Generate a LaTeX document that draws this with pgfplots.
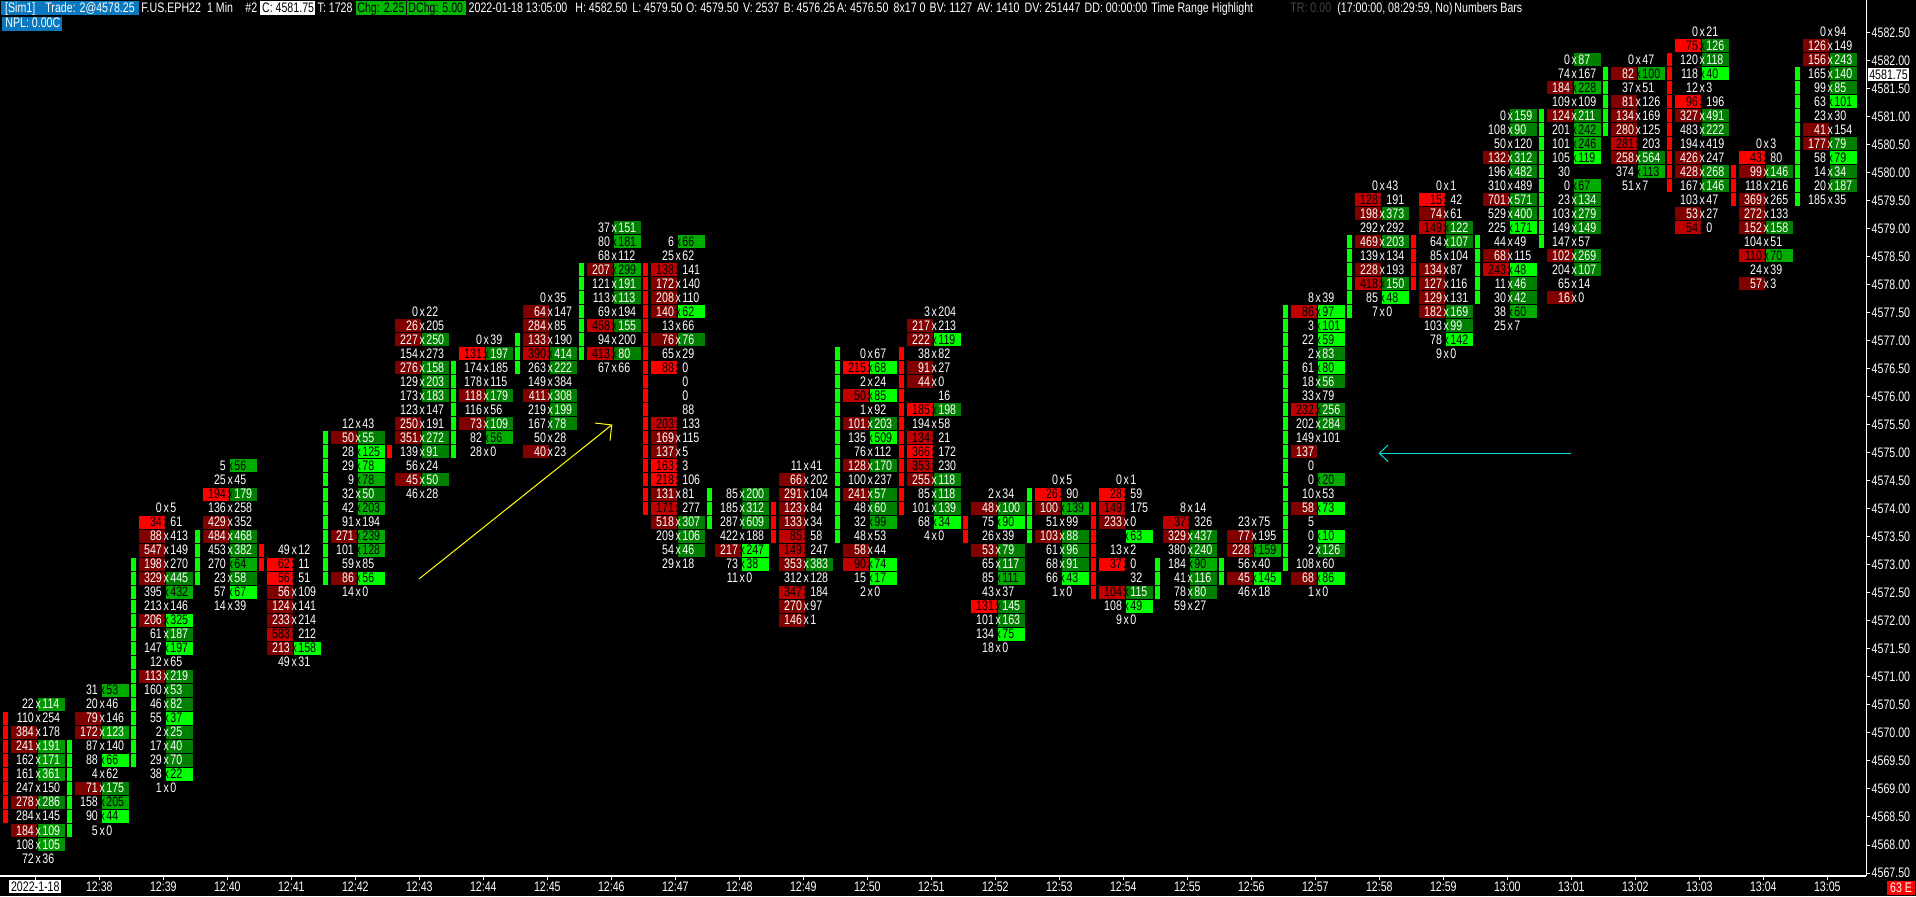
\documentclass[border=0pt]{standalone}
\usepackage{fontspec}
\usepackage{pgfplots}
\usepackage{pgfplotstable}
\pgfplotsset{compat=1.18}
\setmainfont[FakeStretch=0.77]{Liberation Sans}
\newcommand\dt{\fontsize{6.9}{7}\selectfont}
\definecolor{redA}{HTML}{800000}
\definecolor{redC}{HTML}{BE0000}
\definecolor{redD}{HTML}{FF0000}
\definecolor{grnA}{HTML}{008000}
\definecolor{grnB}{HTML}{009800}
\definecolor{grnC}{HTML}{00AC00}
\definecolor{grnD}{HTML}{00FF00}
\definecolor{simblue}{HTML}{0A78BE}
\definecolor{chggreen}{HTML}{00B800}
\definecolor{arrowy}{HTML}{FFFF00}
\definecolor{arrowc}{HTML}{00E0E0}
% picture is 958x448pt, so 1 screen pixel = 0.5pt
\pgfdeclareplotmark{cellL}{\pgfpathrectangle{\pgfpoint{-12.15pt}{-2.9pt}}{\pgfpoint{13pt}{6.5pt}}\pgfusepathqfill}
\pgfdeclareplotmark{cellR}{\pgfpathrectangle{\pgfpoint{1.35pt}{-2.9pt}}{\pgfpoint{13.5pt}{6.5pt}}\pgfusepathqfill}
\pgfdeclareplotmark{body}{\pgfpathrectangle{\pgfpoint{-16.15pt}{-2.9pt}}{\pgfpoint{2.5pt}{6.5pt}}\pgfusepathqfill}
% t p bid ask leftshade rightshade candle(1 up, 2 down); shade -1 = number not shown
\pgfplotstableread{
t p b a ls rs c
0 4570.50 22 114 0 2 0
0 4570.25 110 254 0 0 2
0 4570.00 384 178 1 0 2
0 4569.75 241 191 1 2 2
0 4569.50 162 171 0 2 2
0 4569.25 161 361 0 2 2
0 4569.00 247 150 0 0 2
0 4568.75 278 286 1 1 2
0 4568.50 284 145 0 0 2
0 4568.25 184 109 1 2 0
0 4568.00 108 105 0 2 0
0 4567.75 72 36 0 0 0
1 4570.75 31 53 0 3 0
1 4570.50 20 46 0 0 0
1 4570.25 79 146 1 0 0
1 4570.00 172 123 1 2 0
1 4569.75 87 140 0 0 1
1 4569.50 88 66 0 4 1
1 4569.25 4 62 0 0 1
1 4569.00 71 175 1 1 1
1 4568.75 158 205 0 3 1
1 4568.50 90 44 0 4 1
1 4568.25 5 0 0 0 1
2 4574.00 0 5 0 0 0
2 4573.75 34 61 4 0 0
2 4573.50 88 413 1 0 0
2 4573.25 547 149 1 0 0
2 4573.00 198 270 1 0 1
2 4572.75 329 445 1 1 1
2 4572.50 395 432 0 3 1
2 4572.25 213 146 0 0 1
2 4572.00 206 325 1 4 1
2 4571.75 61 187 0 1 1
2 4571.50 147 197 0 4 1
2 4571.25 12 65 0 0 1
2 4571.00 113 219 1 1 1
2 4570.75 160 53 0 1 1
2 4570.50 46 82 0 1 1
2 4570.25 55 37 0 4 1
2 4570.00 2 25 0 1 1
2 4569.75 17 40 0 1 1
2 4569.50 29 70 0 1 1
2 4569.25 38 22 0 4 0
2 4569.00 1 0 0 0 0
3 4574.75 5 56 0 3 0
3 4574.50 25 45 0 0 0
3 4574.25 194 179 4 1 0
3 4574.00 136 258 0 0 0
3 4573.75 429 352 1 0 0
3 4573.50 484 468 1 1 1
3 4573.25 453 382 0 1 1
3 4573.00 270 64 0 3 1
3 4572.75 23 58 0 1 1
3 4572.50 57 67 0 4 0
3 4572.25 14 39 0 0 0
4 4573.25 49 12 0 0 2
4 4573.00 62 11 4 0 2
4 4572.75 56 51 4 0 0
4 4572.50 56 109 1 0 0
4 4572.25 124 141 1 0 0
4 4572.00 233 214 1 0 0
4 4571.75 583 212 3 0 0
4 4571.50 213 158 1 4 0
4 4571.25 49 31 0 0 0
5 4575.50 12 43 0 0 0
5 4575.25 50 55 1 1 1
5 4575.00 28 125 0 4 1
5 4574.75 29 78 0 4 1
5 4574.50 9 78 0 3 1
5 4574.25 32 50 0 1 1
5 4574.00 42 203 0 3 1
5 4573.75 91 194 0 0 1
5 4573.50 271 239 1 3 1
5 4573.25 101 128 0 3 1
5 4573.00 59 85 0 0 1
5 4572.75 86 56 1 4 1
5 4572.50 14 0 0 0 0
6 4577.50 0 22 0 0 0
6 4577.25 26 205 1 0 0
6 4577.00 227 250 1 1 0
6 4576.75 154 273 0 0 0
6 4576.50 276 158 1 1 0
6 4576.25 129 203 0 1 0
6 4576.00 173 183 0 1 0
6 4575.75 123 147 0 0 0
6 4575.50 250 191 1 0 0
6 4575.25 351 272 1 1 0
6 4575.00 139 91 0 1 2
6 4574.75 56 24 0 0 0
6 4574.50 45 50 1 1 0
6 4574.25 46 28 0 0 0
7 4577.00 0 39 0 0 0
7 4576.75 131 197 4 1 0
7 4576.50 174 185 0 0 1
7 4576.25 178 115 0 0 1
7 4576.00 118 179 1 1 1
7 4575.75 116 56 0 0 1
7 4575.50 73 109 1 1 1
7 4575.25 82 56 0 3 1
7 4575.00 28 0 0 0 1
8 4577.75 0 35 0 0 0
8 4577.50 64 147 1 0 0
8 4577.25 284 85 1 0 0
8 4577.00 133 190 1 0 1
8 4576.75 390 414 3 1 1
8 4576.50 263 222 0 1 1
8 4576.25 149 384 0 0 0
8 4576.00 411 308 1 1 0
8 4575.75 219 199 0 1 0
8 4575.50 167 78 0 1 0
8 4575.25 50 28 0 0 0
8 4575.00 40 23 1 0 0
9 4579.00 37 151 0 1 0
9 4578.75 80 181 0 3 0
9 4578.50 68 112 0 0 0
9 4578.25 207 299 1 3 1
9 4578.00 121 191 0 1 1
9 4577.75 113 113 0 1 1
9 4577.50 69 194 0 0 1
9 4577.25 458 155 3 1 1
9 4577.00 94 200 0 0 1
9 4576.75 413 80 3 1 1
9 4576.50 67 66 0 0 0
10 4578.75 6 66 0 3 0
10 4578.50 25 62 0 0 0
10 4578.25 138 141 3 0 2
10 4578.00 172 140 1 0 2
10 4577.75 208 110 1 0 2
10 4577.50 140 62 1 4 2
10 4577.25 13 66 0 0 2
10 4577.00 76 76 1 1 2
10 4576.75 65 29 0 0 2
10 4576.50 88 0 4 0 2
10 4576.25 - 0 -1 0 2
10 4576.00 - 0 -1 0 2
10 4575.75 - 88 -1 0 2
10 4575.50 203 133 3 0 2
10 4575.25 169 115 1 0 2
10 4575.00 137 5 1 0 2
10 4574.75 163 3 4 0 2
10 4574.50 218 106 4 0 2
10 4574.25 131 81 1 0 2
10 4574.00 171 277 3 0 2
10 4573.75 518 307 1 1 0
10 4573.50 209 106 0 1 0
10 4573.25 54 46 0 1 0
10 4573.00 29 18 0 0 0
11 4574.25 85 200 0 1 1
11 4574.00 185 312 0 1 1
11 4573.75 287 609 0 1 1
11 4573.50 422 188 0 0 0
11 4573.25 217 247 1 4 0
11 4573.00 73 38 0 4 0
11 4572.75 11 0 0 0 0
12 4574.75 11 41 0 0 0
12 4574.50 66 202 1 0 0
12 4574.25 291 104 1 0 0
12 4574.00 123 84 1 0 2
12 4573.75 133 34 1 0 2
12 4573.50 85 58 3 0 2
12 4573.25 149 247 3 0 0
12 4573.00 353 383 1 1 0
12 4572.75 312 128 0 0 0
12 4572.50 347 184 3 0 0
12 4572.25 270 97 1 0 0
12 4572.00 146 1 1 0 0
13 4576.75 0 67 0 0 1
13 4576.50 215 68 4 4 1
13 4576.25 2 24 0 0 1
13 4576.00 50 85 3 4 1
13 4575.75 1 92 0 0 1
13 4575.50 101 203 1 1 1
13 4575.25 135 509 0 4 1
13 4575.00 76 112 0 0 1
13 4574.75 128 170 1 1 1
13 4574.50 100 237 0 0 1
13 4574.25 241 57 1 1 1
13 4574.00 48 60 0 1 1
13 4573.75 32 99 0 3 1
13 4573.50 48 53 0 0 1
13 4573.25 58 44 1 0 0
13 4573.00 90 74 3 4 0
13 4572.75 15 17 0 4 0
13 4572.50 2 0 0 0 0
14 4577.50 3 204 0 0 0
14 4577.25 217 213 1 0 0
14 4577.00 222 119 1 4 0
14 4576.75 38 82 0 0 2
14 4576.50 91 27 1 0 2
14 4576.25 44 0 1 0 2
14 4576.00 - 16 -1 0 2
14 4575.75 185 198 4 1 2
14 4575.50 194 58 0 0 2
14 4575.25 134 21 3 0 2
14 4575.00 366 172 4 0 2
14 4574.75 353 230 3 0 2
14 4574.50 255 118 1 1 2
14 4574.25 85 118 0 1 2
14 4574.00 101 139 0 1 2
14 4573.75 68 34 0 4 0
14 4573.50 4 0 0 0 0
15 4574.25 2 34 0 0 0
15 4574.00 48 100 1 1 0
15 4573.75 75 90 0 4 2
15 4573.50 26 39 0 0 2
15 4573.25 53 79 1 1 0
15 4573.00 65 117 0 1 0
15 4572.75 85 111 0 3 0
15 4572.50 43 37 0 0 0
15 4572.25 131 145 4 1 0
15 4572.00 101 163 0 1 0
15 4571.75 134 75 0 4 0
15 4571.50 18 0 0 0 0
16 4574.50 0 5 0 0 0
16 4574.25 26 90 4 0 1
16 4574.00 100 139 1 3 1
16 4573.75 51 99 0 0 1
16 4573.50 103 88 1 1 1
16 4573.25 61 96 0 1 0
16 4573.00 68 91 0 1 0
16 4572.75 66 43 0 4 0
16 4572.50 1 0 0 0 0
17 4574.50 0 1 0 0 0
17 4574.25 28 59 4 0 0
17 4574.00 149 175 3 0 2
17 4573.75 233 0 1 0 2
17 4573.50 - 63 -1 4 2
17 4573.25 13 2 0 0 2
17 4573.00 37 0 4 0 2
17 4572.75 - 32 -1 0 2
17 4572.50 104 115 3 1 2
17 4572.25 108 49 0 4 0
17 4572.00 9 0 0 0 0
18 4574.00 8 14 0 0 0
18 4573.75 37 326 3 0 0
18 4573.50 329 437 1 1 0
18 4573.25 380 240 0 1 0
18 4573.00 184 90 0 3 1
18 4572.75 41 116 0 1 1
18 4572.50 78 80 0 1 1
18 4572.25 59 27 0 0 0
19 4573.75 23 75 0 0 0
19 4573.50 77 195 1 0 0
19 4573.25 228 159 1 3 0
19 4573.00 56 40 0 0 1
19 4572.75 45 145 1 4 1
19 4572.50 46 18 0 0 0
20 4577.75 8 39 0 0 0
20 4577.50 86 97 3 4 1
20 4577.25 3 101 0 4 1
20 4577.00 22 59 0 4 1
20 4576.75 2 83 0 1 1
20 4576.50 61 80 0 4 1
20 4576.25 18 56 0 1 1
20 4576.00 33 79 0 0 1
20 4575.75 232 256 3 1 1
20 4575.50 202 284 0 1 1
20 4575.25 149 101 0 0 1
20 4575.00 137 - 1 -1 1
20 4574.75 0 - 0 -1 1
20 4574.50 0 20 0 3 1
20 4574.25 10 53 0 0 1
20 4574.00 58 73 1 4 1
20 4573.75 5 - 0 -1 1
20 4573.50 0 10 0 4 1
20 4573.25 2 126 0 1 1
20 4573.00 108 60 0 0 1
20 4572.75 68 86 1 4 0
20 4572.50 1 0 0 0 0
21 4579.75 0 43 0 0 0
21 4579.50 128 191 3 0 0
21 4579.25 198 373 1 1 0
21 4579.00 292 292 0 0 0
21 4578.75 469 203 1 1 1
21 4578.50 139 134 0 0 1
21 4578.25 228 193 1 0 1
21 4578.00 418 150 3 1 1
21 4577.75 85 48 0 4 1
21 4577.50 7 0 0 0 1
22 4579.75 0 1 0 0 0
22 4579.50 15 42 4 0 0
22 4579.25 74 61 1 0 0
22 4579.00 149 122 3 1 0
22 4578.75 64 107 0 1 2
22 4578.50 85 104 0 0 2
22 4578.25 134 87 1 0 2
22 4578.00 127 116 1 0 2
22 4577.75 129 131 1 0 0
22 4577.50 182 169 1 1 0
22 4577.25 103 99 0 1 0
22 4577.00 78 142 0 4 0
22 4576.75 9 0 0 0 0
23 4581.00 0 159 0 1 0
23 4580.75 108 90 0 1 0
23 4580.50 50 120 0 0 0
23 4580.25 132 312 1 1 0
23 4580.00 196 482 0 1 0
23 4579.75 310 489 0 0 0
23 4579.50 701 571 1 1 0
23 4579.25 529 400 0 1 0
23 4579.00 225 171 0 4 0
23 4578.75 44 49 0 0 1
23 4578.50 68 115 1 0 1
23 4578.25 243 48 3 4 1
23 4578.00 11 46 0 1 1
23 4577.75 30 42 0 1 1
23 4577.50 38 60 0 3 0
23 4577.25 25 7 0 0 0
24 4582.00 0 87 0 1 0
24 4581.75 74 167 0 0 0
24 4581.50 184 228 1 3 0
24 4581.25 109 109 0 0 0
24 4581.00 124 211 1 1 1
24 4580.75 201 242 0 3 1
24 4580.50 101 246 0 3 1
24 4580.25 105 119 0 4 1
24 4580.00 30 - 0 -1 1
24 4579.75 0 67 0 3 1
24 4579.50 23 134 0 1 1
24 4579.25 103 279 0 1 1
24 4579.00 149 149 0 1 1
24 4578.75 147 57 0 0 1
24 4578.50 102 269 1 1 0
24 4578.25 204 107 0 1 0
24 4578.00 65 14 0 0 0
24 4577.75 16 0 1 0 0
25 4582.00 0 47 0 0 0
25 4581.75 82 100 1 3 1
25 4581.50 37 51 0 0 1
25 4581.25 81 126 1 0 1
25 4581.00 134 169 1 0 1
25 4580.75 280 125 1 0 1
25 4580.50 281 203 3 0 0
25 4580.25 258 564 1 1 0
25 4580.00 374 113 0 3 0
25 4579.75 51 7 0 0 0
26 4582.50 0 21 0 0 0
26 4582.25 75 126 4 1 0
26 4582.00 120 118 0 1 2
26 4581.75 118 40 0 4 2
26 4581.50 12 3 0 0 2
26 4581.25 96 196 4 0 2
26 4581.00 327 491 1 1 2
26 4580.75 483 222 0 1 2
26 4580.50 194 419 0 0 2
26 4580.25 426 247 1 0 2
26 4580.00 428 268 1 1 2
26 4579.75 167 146 0 1 2
26 4579.50 103 47 0 0 0
26 4579.25 53 27 1 0 0
26 4579.00 54 0 3 0 0
27 4580.50 0 3 0 0 0
27 4580.25 43 80 4 0 0
27 4580.00 99 146 1 1 2
27 4579.75 118 216 0 0 2
27 4579.50 369 265 1 0 2
27 4579.25 272 133 1 0 0
27 4579.00 152 158 1 1 0
27 4578.75 104 51 0 0 0
27 4578.50 110 70 3 3 0
27 4578.25 24 39 0 0 0
27 4578.00 57 3 1 0 0
28 4582.50 0 94 0 0 0
28 4582.25 126 149 1 0 0
28 4582.00 156 243 1 1 0
28 4581.75 165 140 0 1 1
28 4581.50 99 85 0 1 1
28 4581.25 63 101 0 4 1
28 4581.00 23 30 0 0 1
28 4580.75 41 154 1 0 1
28 4580.50 177 79 1 1 1
28 4580.25 58 79 0 4 1
28 4580.00 14 34 0 1 1
28 4579.75 20 187 0 1 1
28 4579.50 185 35 0 0 1
}\cells
\pgfplotsset{
  lab/.style={only marks,mark=none,point meta=explicit symbolic,nodes near coords},
  bidlab/.style={lab,nodes near coords style={#1,font=\dt,inner sep=0pt,anchor=base east,xshift=-.5pt,yshift=-2pt}},
  asklab/.style={lab,nodes near coords style={#1,font=\dt,inner sep=0pt,anchor=base west,xshift=3.35pt,yshift=-2pt}},
  xlab/.style={only marks,mark=none,nodes near coords={x},nodes near coords style={#1,font=\dt,inner sep=0pt,anchor=base,xshift=1.5pt,yshift=-2pt}},
}
\newcommand\hd[3][white]{\node[anchor=base west,inner sep=0pt,text=#1,font=\dt] at (#2pt,441.75pt) {#3};}
\begin{document}
\begin{tikzpicture}
\useasboundingbox (0,0) rectangle (958pt,448pt);
\fill[black] (0,0) rectangle (958pt,448pt);
\begin{axis}[
  at={(0pt,10pt)},anchor=south west,
  width=933.15pt,height=438pt,scale only axis,
  xmin=-0.5516,xmax=28.609,ymin=4567.447,ymax=4583.076,
  axis x line*=bottom,axis y line*=right,
  axis line style={white,line width=.6pt,-},
  tick style={white,line width=.5pt},
  tick align=outside,major tick length=2pt,
  xtick={0,...,28},
  xticklabels={{\setlength\fboxsep{.8pt}\colorbox{white}{\textcolor{black}{2022-1-18}}},12:38,12:39,12:40,12:41,12:42,12:43,12:44,12:45,12:46,12:47,12:48,12:49,12:50,12:51,12:52,12:53,12:54,12:55,12:56,12:57,12:58,12:59,13:00,13:01,13:02,13:03,13:04,13:05},
  x tick label style={white,font=\dt,inner sep=0pt,anchor=base,yshift=-5.75pt},
  ytick={4567.5,4568,...,4582.5},
  extra y ticks={4581.75},
  extra y tick style={major tick length=0pt},
  extra y tick labels={{\setlength\fboxsep{.8pt}\colorbox{white}{\textcolor{black}{4581.75}}}},
  y tick label style={white,font=\dt,inner sep=0pt,anchor=west,xshift=.5pt},
  yticklabel style={/pgf/number format/.cd,fixed,fixed zerofill,precision=2,1000 sep={},assume math mode=true},
  clip mode=individual,
]
% candle bodies
\addplot[only marks,mark=body,color=grnD,restrict expr to domain={\thisrow{c}}{1:1}] table[x=t,y=p]{\cells};
\addplot[only marks,mark=body,color=redD,restrict expr to domain={\thisrow{c}}{2:2}] table[x=t,y=p]{\cells};
% bid cells
\addplot[only marks,mark=cellL,color=redA,restrict expr to domain={\thisrow{ls}}{1:1}] table[x=t,y=p]{\cells};
\addplot[only marks,mark=cellL,color=redC,restrict expr to domain={\thisrow{ls}}{3:3}] table[x=t,y=p]{\cells};
\addplot[only marks,mark=cellL,color=redD,restrict expr to domain={\thisrow{ls}}{4:4}] table[x=t,y=p]{\cells};
% ask cells
\addplot[only marks,mark=cellR,color=grnA,restrict expr to domain={\thisrow{rs}}{1:1}] table[x=t,y=p]{\cells};
\addplot[only marks,mark=cellR,color=grnB,restrict expr to domain={\thisrow{rs}}{2:2}] table[x=t,y=p]{\cells};
\addplot[only marks,mark=cellR,color=grnC,restrict expr to domain={\thisrow{rs}}{3:3}] table[x=t,y=p]{\cells};
\addplot[only marks,mark=cellR,color=grnD,restrict expr to domain={\thisrow{rs}}{4:4}] table[x=t,y=p]{\cells};
% numbers
\addplot[bidlab=white,restrict expr to domain={\thisrow{ls}}{0:2}] table[x=t,y=p,meta=b]{\cells};
\addplot[bidlab=black,restrict expr to domain={\thisrow{ls}}{3:4}] table[x=t,y=p,meta=b]{\cells};
\addplot[asklab=white,restrict expr to domain={\thisrow{rs}}{0:2}] table[x=t,y=p,meta=a]{\cells};
\addplot[asklab=black,restrict expr to domain={\thisrow{rs}}{3:4}] table[x=t,y=p,meta=a]{\cells};
\addplot[xlab=white,restrict expr to domain={max(\thisrow{ls},\thisrow{rs})+9*(min(\thisrow{ls},\thisrow{rs})<0)}{0:2}] table[x=t,y=p]{\cells};
\addplot[xlab=black,restrict expr to domain={max(\thisrow{ls},\thisrow{rs})}{3:4}] table[x=t,y=p]{\cells};
% hand drawn arrows
\addplot[arrowy,line width=.5pt,no marks] coordinates {(5.995,4572.746)(9.006,4575.494)};
\addplot[arrowy,line width=.5pt,no marks] coordinates {(8.745,4575.529)(9.006,4575.494)(8.98,4575.214)};
\addplot[arrowc,line width=.5pt,no marks] coordinates {(21,4574.989)(23.995,4574.989)};
\addplot[arrowc,line width=.5pt,no marks] coordinates {(21.137,4575.137)(21,4574.989)(21.137,4574.839)};
\end{axis}
% the lowest price label is cut by the time scale
\fill[black] (933.4pt,0) rectangle (958pt,9.75pt);
\fill[red] (943.5pt,.5pt) rectangle (957.5pt,7.65pt);
\node[anchor=base,inner sep=0pt,text=white,font=\dt] at (950.5pt,1.6pt) {63 E};
% status line
\fill[simblue] (.5pt,440.5pt) rectangle (69.5pt,447.5pt);
\fill[simblue] (.85pt,432.5pt) rectangle (31pt,439.5pt);
\fill[white] (130pt,440.5pt) rectangle (157.5pt,447.5pt);
\fill[chggreen] (177.85pt,440.5pt) rectangle (203pt,447.5pt);
\fill[chggreen] (203.35pt,440.5pt) rectangle (233pt,447.5pt);
\hd{2.35}{[Sim1]}
\hd{22.5}{Trade: 2@4578.25}
\hd{70.5}{F.US.EPH22}
\hd{103.35}{1 Min}
\hd{122.5}{\#2}
\hd[black]{130.85}{C: 4581.75}
\hd{158.65}{T: 1728}
\hd[black]{178.5}{Chg: 2.25}
\hd[black]{204}{DChg: 5.00}
\hd{234.15}{2022-01-18 13:05:00}
\hd{287.5}{H: 4582.50}
\hd{316}{L: 4579.50}
\hd{342.85}{O: 4579.50}
\hd{371.35}{V: 2537}
\hd{391.65}{B: 4576.25}
\hd{418.35}{A: 4576.50}
\hd{446.65}{8x17 0}
\hd{464.65}{BV: 1127}
\hd{488.35}{AV: 1410}
\hd{512.15}{DV: 251447}
\hd{542.15}{DD: 00:00:00}
\hd{575.5}{Time Range Highlight}
\hd[black!75!white]{645}{TR: 0.00}
\hd{668.5}{(17:00:00, 08:29:59, No)}
\hd{727}{Numbers Bars}
\node[anchor=base west,inner sep=0pt,text=white,font=\dt] at (2.5pt,434.25pt) {NPL: 0.00C};
\end{tikzpicture}
\end{document}
